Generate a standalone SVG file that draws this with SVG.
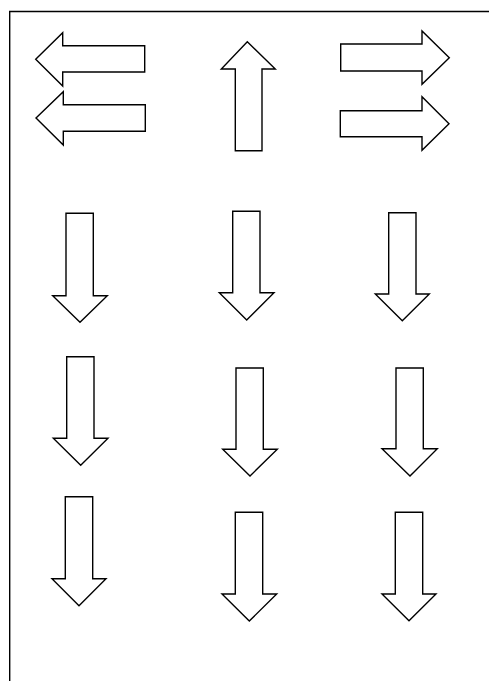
<svg xmlns="http://www.w3.org/2000/svg" width="489" height="681" viewBox="0 0 489 681">
<style>
.a{fill:#fff;stroke:#000;stroke-width:1.4;stroke-linejoin:miter}
.f{fill:none;stroke:#000;stroke-width:1.4}
</style>
<rect width="489" height="681" fill="#fff"/>
<path class="f" d="M9.7,681 V11.5 H489"/>
<g id="left1"><polygon class="a" points="35.7,59.3 62.7,32.7 62.7,45.7 144.7,45.7 144.7,72 62.7,72 62.7,86"/></g>
<g id="left2"><polygon class="a" points="36,118 63.3,91.7 63.3,104.7 145.3,104.7 145.3,131.3 63.3,131.3 63.3,145"/></g>
<g id="up"><polygon class="a" points="247.3,41.7 275.3,69 262,69 262,150.7 235.3,150.7 235.3,69 221.3,69"/></g>
<g id="right1"><polygon class="a" points="449.3,57.7 422,31 422,44 340.7,44 340.7,71 422,71 422,84.3"/></g>
<g id="right2"><polygon class="a" points="449,123.7 422,96.7 422,110.7 340.3,110.7 340.3,136.7 422,136.7 422,150.3"/></g>
<g id="down1"><polygon class="a" points="66,213.3 93.3,213.3 93.3,295.7 107.3,295.7 80,322.3 52.7,295.7 66,295.7"/></g>
<g id="down2"><polygon class="a" points="232.7,211.3 260,211.3 260,292.7 274,292.7 246.7,320 219.3,292.7 232.7,292.7"/></g>
<g id="down3"><polygon class="a" points="388.7,212.7 416,212.7 416,294 429.3,294 402.3,320.7 375.3,294 388.7,294"/></g>
<g id="down4"><polygon class="a" points="66.7,356.7 94,356.7 94,438.3 108,438.3 80.7,465.3 53.3,438.3 66.7,438.3"/></g>
<g id="down5"><polygon class="a" points="236,368 263.3,368 263.3,449.3 277.3,449.3 250,476 222.7,449.3 236,449.3"/></g>
<g id="down6"><polygon class="a" points="396,368 423.3,368 423.3,448.7 437.3,448.7 410,476 382,448.7 396,448.7"/></g>
<g id="down7"><polygon class="a" points="65.3,496.7 92.7,496.7 92.7,578.7 106,578.7 79,605.7 52,578.7 65.3,578.7"/></g>
<g id="down8"><polygon class="a" points="235.3,512.3 262.7,512.3 262.7,594 276.7,594 249.3,621 222,594 235.3,594"/></g>
<g id="down9"><polygon class="a" points="395.3,512.3 422.7,512.3 422.7,594 436,594 409,620.7 382,594 395.3,594"/></g>
<g id="connectors"></g>
</svg>
